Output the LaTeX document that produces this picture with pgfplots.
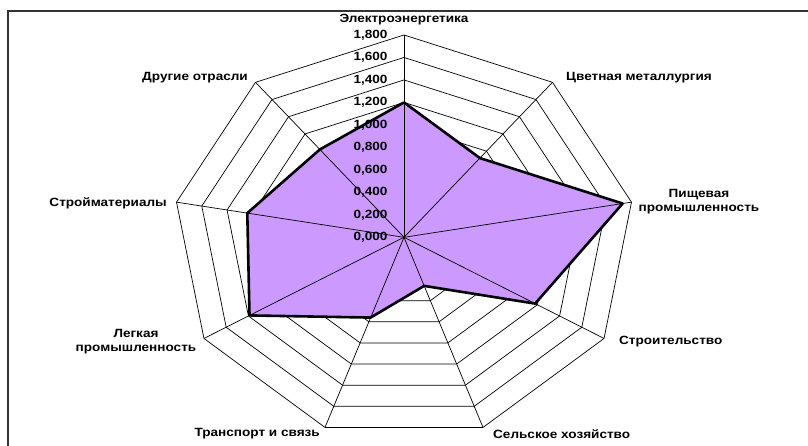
\documentclass[border=0pt]{standalone}
\usepackage{fontspec}
\setmainfont{Liberation Sans}[FakeStretch=1.14]
\usepackage{pgfplots}
\pgfplotsset{compat=1.18}
\usepackage{pgfplotstable}
\definecolor{areafill}{RGB}{204,153,255}

% angle (deg) and value for each category, first point repeated to close
\pgfplotstableread{
angle r
90   1.20
50   0.92
10   1.73
-30  1.18
-70  0.46
-110 0.76
-150 1.39
-190 1.24
-230 1.02
-270 1.20
}\radar

\begin{document}
\begin{tikzpicture}[font=\fontsize{11.9}{14}\selectfont\bfseries]
\begin{axis}[anchor=origin, at={(0pt,0pt)},
  x=128.33pt, y=112.4pt,
  xmin=-1.8, xmax=1.8, ymin=-1.8, ymax=1.8,
  hide axis, clip=false]
% rings
\pgfplotsinvokeforeach{0.2,0.4,0.6,0.8,1.0,1.2,1.4,1.6,1.8}{
  \draw[black, line width=0.7pt]
    (axis cs:{#1*cos(90)},{#1*sin(90)}) --
    (axis cs:{#1*cos(50)},{#1*sin(50)}) --
    (axis cs:{#1*cos(10)},{#1*sin(10)}) --
    (axis cs:{#1*cos(-30)},{#1*sin(-30)}) --
    (axis cs:{#1*cos(-70)},{#1*sin(-70)}) --
    (axis cs:{#1*cos(-110)},{#1*sin(-110)}) --
    (axis cs:{#1*cos(-150)},{#1*sin(-150)}) --
    (axis cs:{#1*cos(-190)},{#1*sin(-190)}) --
    (axis cs:{#1*cos(-230)},{#1*sin(-230)}) -- cycle;
}
% filled area
\addplot[draw=none, fill=areafill]
  table[x expr={\thisrow{r}*cos(\thisrow{angle})}, y expr={\thisrow{r}*sin(\thisrow{angle})}] {\radar};
% spokes
\pgfplotsinvokeforeach{90,50,10,-30,-70,-110,-150,-190,-230}{
  \draw[black, line width=0.7pt] (axis cs:0,0) -- (axis cs:{1.8*cos(#1)},{1.8*sin(#1)});
}
% outline
\addplot[black, line width=2.6pt, line join=round, mark=none]
  table[x expr={\thisrow{r}*cos(\thisrow{angle})}, y expr={\thisrow{r}*sin(\thisrow{angle})}] {\radar};
% radial tick labels
\node[anchor=east, xshift=-13pt] at (axis cs:0,0.0) {0,000};
\node[anchor=east, xshift=-13pt] at (axis cs:0,0.2) {0,200};
\node[anchor=east, xshift=-13pt] at (axis cs:0,0.4) {0,400};
\node[anchor=east, xshift=-13pt] at (axis cs:0,0.6) {0,600};
\node[anchor=east, xshift=-13pt] at (axis cs:0,0.8) {0,800};
\node[anchor=east, xshift=-13pt] at (axis cs:0,1.0) {1,000};
\node[anchor=east, xshift=-13pt] at (axis cs:0,1.2) {1,200};
\node[anchor=east, xshift=-13pt] at (axis cs:0,1.4) {1,400};
\node[anchor=east, xshift=-13pt] at (axis cs:0,1.6) {1,600};
\node[anchor=east, xshift=-13pt] at (axis cs:0,1.8) {1,800};
\end{axis}
% category labels
\node[inner sep=0pt] at (0pt,217.3pt) {Электроэнергетика};
\node[anchor=west, inner sep=0pt] at (162pt,159.3pt) {Цветная металлургия};
\node[align=center, inner sep=0pt] at (295pt,35.3pt) {Пищевая\\промышленность};
\node[anchor=west, inner sep=0pt] at (215pt,-104.7pt) {Строительство};
\node[anchor=west, inner sep=0pt] at (89pt,-196.7pt) {Сельское хозяйство};
\node[anchor=east, inner sep=0pt] at (-84pt,-196.7pt) {Транспорт и связь};
\node[align=center, inner sep=0pt] at (-268pt,-104.7pt) {Легкая\\промышленность};
\node[anchor=east, inner sep=0pt] at (-237pt,34.3pt) {Стройматериалы};
\node[anchor=east, inner sep=0pt] at (-156pt,159.3pt) {Другие отрасли};
% frame
\draw[line width=1.5pt, black!80] (-396pt,-230pt) -- (-396pt,226.3pt) -- (430pt,226.3pt);
\pgfresetboundingbox
\useasboundingbox (-404pt,-208.7pt) rectangle (404pt,237.3pt);
\end{tikzpicture}
\end{document}
